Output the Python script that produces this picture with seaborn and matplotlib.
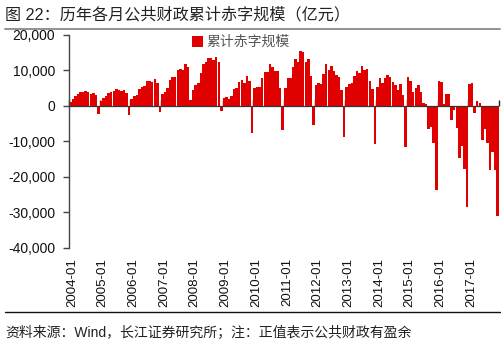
import matplotlib.pyplot as plt
import matplotlib.lines as mlines
import pandas as pd
import seaborn as sns

RED = '#E00000'

# cumulative fiscal balance by month (亿元), Jan..Dec, positive = surplus
bal_2004 = [1200, 1900, 2700, 3300, 3800, 3800, 4100, 3800, 3500, 3600, 3000, -2300]
bal_2005 = [1500, 2200, 2700, 3600, 4000, 4300, 4700, 4400, 4200, 4500, 3600, -2600]
bal_2006 = [1900, 2900, 3100, 4700, 5400, 5600, 7000, 7000, 6800, 7600, 6500, -1800]
bal_2007 = [3500, 4000, 5000, 7300, 8300, 8300, 10100, 10300, 10100, 11700, 11100, 1700]
bal_2008 = [4500, 6000, 6600, 9200, 11800, 12400, 13400, 13400, 12900, 13900, 12300, -1400]
bal_2009 = [2200, 2400, 1900, 2800, 4800, 5200, 6700, 7200, 6400, 8500, 7100, -7700]
bal_2010 = [5200, 5300, 5300, 7800, 9700, 9700, 11700, 11000, 9900, 9900, 5200, -6800]
bal_2011 = [5200, 8000, 8000, 10900, 13200, 12300, 15500, 15100, 12300, 13200, 8500, -5350]
bal_2012 = [5900, 6500, 6200, 9100, 11700, 10000, 11300, 9900, 8800, 8300, 4500, -8800]
bal_2013 = [5300, 6200, 6400, 8500, 9900, 9400, 11300, 10100, 10300, 7100, 4700, -10800]
bal_2014 = [5300, 7900, 6400, 7800, 8700, 8200, 6700, 5900, 4400, 6200, 3200, -11600]
bal_2015 = [8100, 6900, 3800, 5000, 5900, 3800, 950, 560, -6500, -5800, -10500, -23600]
bal_2016 = [7100, 6700, 600, 3400, 3400, -3900, -1100, -6300, -14700, -11300, -17800, -28500]
bal_2017 = [6200, 6600, -1900, 1500, 750, -9600, -6600, -10500, -18000, -12900, -18000, -31000]

years = list(range(2004, 2018))
yticks = [-40000, -30000, -20000, -10000, 0, 10000, 20000]


def build_df():
    values = (bal_2004 + bal_2005 + bal_2006 + bal_2007 + bal_2008 + bal_2009 + bal_2010
              + bal_2011 + bal_2012 + bal_2013 + bal_2014 + bal_2015 + bal_2016 + bal_2017)
    months = pd.date_range('2004-01-01', periods=len(values), freq='MS').strftime('%Y-%m')
    return pd.DataFrame({'month': months, 'value': values})


def plot_chart():
    df = build_df()
    sns.set_theme(style='white')
    plt.rcParams['font.family'] = ['Liberation Sans', 'Noto Sans CJK SC']

    fig, ax = plt.subplots(figsize=(5.02, 3.52), dpi=100)
    fig.subplots_adjust(left=0.1375, right=0.994, top=0.9006, bottom=0.2955)

    sns.barplot(data=df, x='month', y='value', color=RED, saturation=1, width=0.97,
                linewidth=0, label='累计赤字规模', ax=ax)

    n = len(df)
    ax.set_xlim(-0.5, n - 0.5)
    ax.set_ylim(yticks[0], yticks[-1])
    ax.set_yticks(yticks, labels=[f'{v:,}' for v in yticks])
    ax.set_ylabel('')
    ax.set_xlabel('')

    # x axis line sits on zero, year ticks at boundaries
    for side in ['top', 'right']:
        ax.spines[side].set_visible(False)
    ax.spines['bottom'].set_position(('data', 0))
    ax.spines['bottom'].set_linestyle((0, (1, 1)))
    ax.spines['bottom'].set_color('#333333')
    ax.spines['bottom'].set_linewidth(0.9)
    ax.spines['left'].set_color('#444444')
    ax.spines['left'].set_linewidth(1.0)
    ax.set_xticks([12 * k - 0.5 for k in range(len(years) + 1)])
    ax.tick_params(axis='x', direction='in', length=4, width=1, color='#222222',
                   labelbottom=False, bottom=True)
    ax.tick_params(axis='y', direction='out', length=4, width=1, color='#444444',
                   labelsize=10, labelcolor='#111111', pad=6, left=True)

    sec = ax.secondary_xaxis('bottom')
    sec.set_xticks([12 * k + 0.6 for k in range(len(years))],
                   labels=[f'{y}-01' for y in years])
    sec.tick_params(length=0, rotation=90, labelsize=9.5, labelcolor='#111111', pad=7)
    sec.spines['bottom'].set_visible(False)

    leg = ax.legend(loc='center left', bbox_to_anchor=(0.285, 0.967), frameon=False,
                    handlelength=0.8, handleheight=0.8, handletextpad=0.3,
                    borderaxespad=0, borderpad=0, fontsize=10)
    for t in leg.get_texts():
        t.set_color('#555555')

    fig.text(5 / 502, 1 - 15 / 352, '图 22：历年各月公共财政累计赤字规模（亿元）',
             fontsize=11.6, va='center', ha='left', color='#222222')
    fig.add_artist(mlines.Line2D([5 / 502, 500 / 502], [1 - 28.5 / 352] * 2,
                                 color='#888888', lw=1.3))
    fig.add_artist(mlines.Line2D([5 / 502, 500 / 502], [1 - 311.5 / 352] * 2,
                                 color='#111111', lw=1.0))
    fig.text(5 / 502, 1 - 333 / 352, '资料来源：Wind，长江证券研究所；注：正值表示公共财政有盈余',
             fontsize=10, va='center', ha='left', color='#222222')

    fig.savefig('out.png', dpi=100)


if __name__ == '__main__':
    plot_chart()
